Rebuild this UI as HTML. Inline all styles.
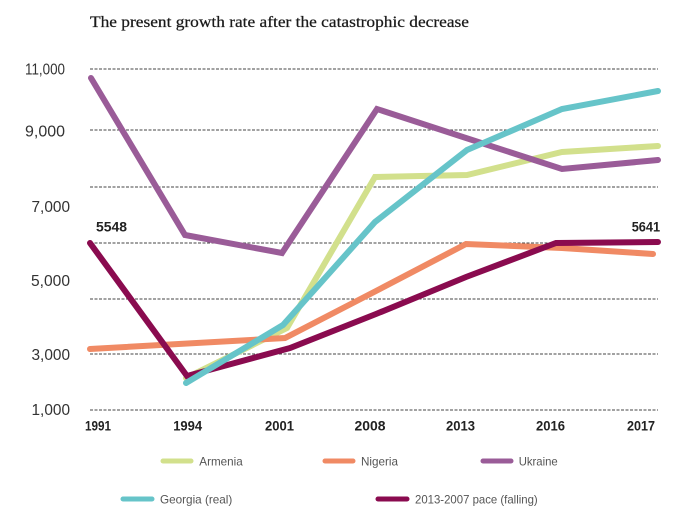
<!DOCTYPE html>
<html>
<head>
<meta charset="utf-8">
<style>
  html, body { margin: 0; padding: 0; background: #ffffff; }
  body { width: 696px; height: 532px; overflow: hidden; }
  svg { display: block; }
</style>
</head>
<body>
<svg width="696" height="532" viewBox="0 0 696 532" xmlns="http://www.w3.org/2000/svg">
  <rect x="0" y="0" width="696" height="532" fill="#ffffff"/>

  <!-- Title -->
  <text x="90" y="27" font-family="Liberation Serif, serif" font-size="16" fill="#1a1a1a" stroke="#1a1a1a" stroke-width="0.25" textLength="379" lengthAdjust="spacingAndGlyphs">The present growth rate after the catastrophic decrease</text>

  <!-- Gridlines -->
  <g stroke="#444" stroke-width="1" stroke-dasharray="3,1.5" fill="none">
    <line x1="90" y1="69" x2="658" y2="69"/>
    <line x1="90" y1="130" x2="658" y2="130"/>
    <line x1="90" y1="187" x2="658" y2="187"/>
    <line x1="90" y1="243" x2="658" y2="243"/>
    <line x1="90" y1="299" x2="658" y2="299"/>
    <line x1="90" y1="354" x2="658" y2="354"/>
    <line x1="90" y1="410" x2="658" y2="410"/>
  </g>

  <!-- Y-axis labels -->
  <g font-family="Liberation Sans, sans-serif" font-size="16" fill="#333" text-anchor="end">
    <text x="65" y="74.7" textLength="40" lengthAdjust="spacingAndGlyphs">11,000</text>
    <text x="65" y="136.5" textLength="40" lengthAdjust="spacingAndGlyphs">9,000</text>
    <text x="70" y="212" textLength="38.5" lengthAdjust="spacingAndGlyphs">7,000</text>
    <text x="70" y="286" textLength="39" lengthAdjust="spacingAndGlyphs">5,000</text>
    <text x="70" y="360.2" textLength="38.5" lengthAdjust="spacingAndGlyphs">3,000</text>
    <text x="70" y="415.2" textLength="38.5" lengthAdjust="spacingAndGlyphs">1,000</text>
  </g>

  <!-- X-axis labels -->
  <g font-family="Liberation Sans, sans-serif" font-size="14" font-weight="bold" fill="#222" text-anchor="middle">
    <text x="98" y="430.7" textLength="26" lengthAdjust="spacingAndGlyphs">1991</text>
    <text x="187.7" y="430.7" textLength="29" lengthAdjust="spacingAndGlyphs">1994</text>
    <text x="279.5" y="430.7" textLength="29" lengthAdjust="spacingAndGlyphs">2001</text>
    <text x="370" y="430.7" textLength="31" lengthAdjust="spacingAndGlyphs">2008</text>
    <text x="460.5" y="430.7" textLength="29" lengthAdjust="spacingAndGlyphs">2013</text>
    <text x="550.5" y="430.7" textLength="29" lengthAdjust="spacingAndGlyphs">2016</text>
    <text x="641" y="430.7" textLength="28" lengthAdjust="spacingAndGlyphs">2017</text>
  </g>

  <!-- Series -->
  <g fill="none" stroke-width="6" stroke-linecap="round" stroke-linejoin="miter">
    <!-- Armenia -->
    <polyline stroke="#d2e08c" points="186,378 287,328 375,177 467,175 562,152 658,146"/>
    <!-- Ukraine -->
    <polyline stroke="#9a5c98" points="91,78 185,235 282,253 377,109 466,138 562,169 658,160"/>
    <!-- Nigeria -->
    <polyline stroke="#f08a64" points="90,349 285,338 376,291 466,244 562,248 653,254"/>
    <!-- 2013-2007 pace (falling) -->
    <polyline stroke="#8a0b4f" points="90,243 187,376 290,348 376,314 466,277 556,243 658,242"/>
    <!-- Georgia -->
    <polyline stroke="#66c4c9" points="186,383 283,325 375,222 467,150 562,109 658,91"/>
  </g>

  <!-- Data labels -->
  <g font-family="Liberation Sans, sans-serif" font-size="14" font-weight="bold" fill="#222">
    <text x="96" y="231.7" textLength="31" lengthAdjust="spacingAndGlyphs">5548</text>
    <text x="631.7" y="231.7" textLength="28.5" lengthAdjust="spacingAndGlyphs">5641</text>
  </g>

  <!-- Legend -->
  <g stroke-width="5" stroke-linecap="round">
    <line x1="163" y1="461" x2="191" y2="461" stroke="#d2e08c"/>
    <line x1="325" y1="461" x2="353" y2="461" stroke="#f08a64"/>
    <line x1="483" y1="461" x2="511" y2="461" stroke="#9a5c98"/>
    <line x1="123" y1="499" x2="152" y2="499" stroke="#66c4c9"/>
    <line x1="378" y1="499" x2="407" y2="499" stroke="#8a0b4f"/>
  </g>
  <g font-family="Liberation Sans, sans-serif" font-size="12" fill="#555">
    <text x="199.3" y="465.3" textLength="43.4" lengthAdjust="spacingAndGlyphs">Armenia</text>
    <text x="361" y="465.3" textLength="37" lengthAdjust="spacingAndGlyphs">Nigeria</text>
    <text x="518.7" y="465.3" textLength="39" lengthAdjust="spacingAndGlyphs">Ukraine</text>
    <text x="160" y="503.3" textLength="72.3" lengthAdjust="spacingAndGlyphs">Georgia (real)</text>
    <text x="415" y="503.3" textLength="122.7" lengthAdjust="spacingAndGlyphs">2013-2007 pace (falling)</text>
  </g>
</svg>
</body>
</html>
